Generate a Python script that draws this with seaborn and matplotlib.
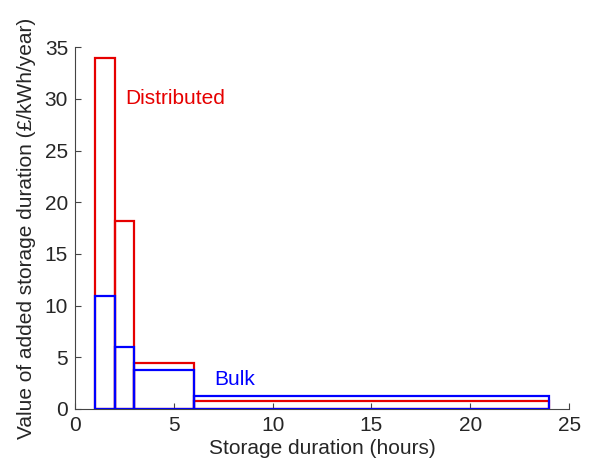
import matplotlib
matplotlib.use("Agg")
import matplotlib.pyplot as plt
import seaborn as sns

# bin edges of storage duration (hours)
bin_edges = [1, 2, 3, 6, 24]
distributed_values = [34.0, 18.2, 4.4, 0.8]
bulk_values = [10.9, 6.0, 3.8, 1.2]

sns.set_style("ticks")
plt.rcParams["font.family"] = ["Liberation Sans", "DejaVu Sans"]

mids = [(a + b) / 2 for a, b in zip(bin_edges[:-1], bin_edges[1:])]

fig = plt.figure(figsize=(6.1, 4.63), dpi=100)
ax = fig.add_axes([0.123, 0.117, 0.81, 0.781])

sns.histplot(x=mids, weights=distributed_values, bins=bin_edges, fill=False,
             element="bars", color="#e60000", linewidth=1.6, ax=ax)
sns.histplot(x=mids, weights=bulk_values, bins=bin_edges, fill=False,
             element="bars", color="#0000ff", linewidth=1.6, ax=ax)

ax.text(2.55, 30, "Distributed", color="#e60000", fontsize=15, va="center")
ax.text(7.05, 2.8, "Bulk", color="#0000ff", fontsize=15, va="center")

ax.set_xlim(0, 25)
ax.set_ylim(0, 35)
ax.set_xticks([0, 5, 10, 15, 20, 25])
ax.set_yticks([0, 5, 10, 15, 20, 25, 30, 35])
ax.tick_params(direction="in", labelsize=15, length=4, color="#444444", pad=5)
ax.set_xlabel("Storage duration (hours)", fontsize=15, labelpad=3)
ax.set_ylabel("Value of added storage duration (£/kWh/year)", fontsize=15, labelpad=6)
sns.despine(ax=ax)
for s in ["left", "bottom"]:
    ax.spines[s].set_color("#444444")

fig.savefig("out.png", dpi=100)
